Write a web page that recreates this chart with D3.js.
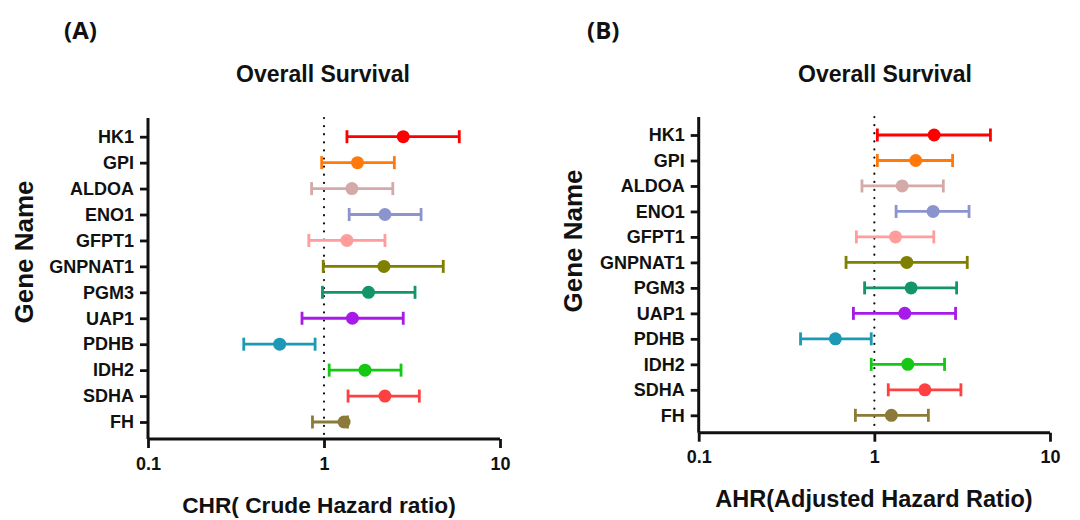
<!DOCTYPE html>
<html>
<head>
<meta charset="utf-8">
<script src="https://cdn.jsdelivr.net/npm/d3@7"></script>
<style>
  body { margin: 0; background: #fff; }
  svg text { font-family: "Liberation Sans", Arial, sans-serif; font-weight: bold; fill: #111; }
</style>
</head>
<body>
<svg class="chart"></svg>
<script>
var width = 1080,
    height = 520;

var genes = ["HK1", "GPI", "ALDOA", "ENO1", "GFPT1", "GNPNAT1", "PGM3", "UAP1", "PDHB", "IDH2", "SDHA", "FH"];
var colors = ["#ff0000", "#ff7a0a", "#d4aaa8", "#8c94d0", "#ff9c9c", "#7f7f00", "#13956a", "#a61be8", "#1c99b5", "#14c814", "#ff4040", "#8b7a3a"];

// crude hazard ratio (panel A)
var chrEst = [2.82, 1.55, 1.44, 2.22, 1.35, 2.19, 1.79, 1.45, 0.56, 1.71, 2.22, 1.30];
var chrLow = [1.35, 0.97, 0.85, 1.39, 0.82, 0.99, 0.98, 0.75, 0.35, 1.07, 1.37, 0.86];
var chrHigh = [5.87, 2.51, 2.46, 3.56, 2.22, 4.76, 3.29, 2.82, 0.89, 2.74, 3.48, 1.36];

// adjusted hazard ratio (panel B)
var ahrEst = [2.19, 1.72, 1.44, 2.16, 1.32, 1.53, 1.62, 1.49, 0.60, 1.55, 1.94, 1.25];
var ahrLow = [1.04, 1.04, 0.85, 1.33, 0.79, 0.69, 0.88, 0.76, 0.38, 0.96, 1.20, 0.78];
var ahrHigh = [4.58, 2.79, 2.47, 3.46, 2.18, 3.38, 2.94, 2.90, 0.96, 2.51, 3.11, 2.03];

var xTicks = [0.1, 1, 10];

var svg = d3.select(".chart")
    .attr("width", width)
    .attr("height", height);

function panel(o) {
  var x = d3.scaleLog()
      .domain([0.1, 10])
      .range([o.left, o.right]);
  var y = d3.scalePoint()
      .domain(genes)
      .range([o.first, o.last]);

  var g = svg.append("g");

  // reference line at HR = 1
  g.append("line")
      .attr("x1", x(1)).attr("x2", x(1))
      .attr("y1", o.top).attr("y2", o.bottom)
      .attr("stroke", "#111")
      .attr("stroke-width", 2.2)
      .attr("stroke-linecap", "round")
      .attr("stroke-dasharray", "0.1,8");

  var rows = genes.map(function(d, i) {
    return { name: d, est: o.est[i], lo: o.lo[i], hi: o.hi[i], color: colors[i] };
  });

  var row = g.selectAll(".row")
      .data(rows)
    .enter().append("g")
      .attr("class", "row")
      .attr("transform", function(d) { return "translate(0," + y(d.name) + ")"; });

  row.append("line")
      .attr("x1", function(d) { return x(d.lo); })
      .attr("x2", function(d) { return x(d.hi); })
      .attr("stroke", function(d) { return d.color; })
      .attr("stroke-width", 2.8);

  row.selectAll(".cap")
      .data(function(d) { return [{ v: d.lo, c: d.color }, { v: d.hi, c: d.color }]; })
    .enter().append("line")
      .attr("class", "cap")
      .attr("x1", function(d) { return x(d.v); })
      .attr("x2", function(d) { return x(d.v); })
      .attr("y1", -6.5).attr("y2", 6.5)
      .attr("stroke", function(d) { return d.c; })
      .attr("stroke-width", 2.8);

  row.append("circle")
      .attr("cx", function(d) { return x(d.est); })
      .attr("r", 6.5)
      .attr("fill", function(d) { return d.color; });

  // axes
  var xAxis = g.append("g")
      .attr("transform", "translate(0," + o.bottom + ")")
      .call(d3.axisBottom(x).tickValues(xTicks).tickFormat(d3.format("")).tickSize(9).tickPadding(9));
  var yAxis = g.append("g")
      .attr("transform", "translate(" + o.left + ",0)")
      .call(d3.axisLeft(y).tickSize(8).tickPadding(6));

  [xAxis, yAxis].forEach(function(a) {
    a.select(".domain").attr("stroke", "#111").attr("stroke-width", 3);
    a.selectAll(".tick line").attr("stroke", "#111").attr("stroke-width", 2.8);
    a.selectAll(".tick text").attr("fill", "#111").style("font-family", "Liberation Sans, Arial, sans-serif").style("font-weight", "bold");
  });
  yAxis.select(".domain").attr("d", "M0," + o.top + "V" + o.bottom);
  xAxis.select(".domain").attr("d", "M" + o.left + ",0H" + o.right);
  xAxis.selectAll(".tick text").style("font-size", "18px");
  yAxis.selectAll(".tick text").style("font-size", "18px");

  // labels
  g.append("text")
      .attr("x", o.tagX).attr("y", 39)
      .style("font-size", "24px")
      .style("font-family", "Open Sans, sans-serif")
      .text(o.tag);
  g.append("text")
      .attr("x", o.titleX).attr("y", 82)
      .attr("text-anchor", "middle")
      .style("font-size", "23px")
      .text("Overall Survival");
  g.append("text")
      .attr("transform", "translate(" + o.yLabX + "," + o.yLabY + ") rotate(-90)")
      .attr("text-anchor", "middle")
      .style("font-size", "26px")
      .text("Gene Name");
  g.append("text")
      .attr("x", o.xLabX).attr("y", o.xLabY)
      .attr("text-anchor", "middle")
      .style("font-size", o.xLabSize)
      .text(o.xLab);
}

panel({
  left: 148, right: 500, top: 118, bottom: 439, first: 136.7, last: 422,
  est: chrEst, lo: chrLow, hi: chrHigh,
  tag: "(A)", tagX: 64, titleX: 323,
  yLabX: 33, yLabY: 252,
  xLab: "CHR( Crude Hazard ratio)", xLabX: 319, xLabY: 513, xLabSize: "22.7px"
});

panel({
  left: 698.7, right: 1050, top: 117, bottom: 432.7, first: 135, last: 415.3,
  est: ahrEst, lo: ahrLow, hi: ahrHigh,
  tag: "(B)", tagX: 587, titleX: 885,
  yLabX: 582, yLabY: 241,
  xLab: "AHR(Adjusted Hazard Ratio)", xLabX: 874, xLabY: 507, xLabSize: "23.5px"
});
</script>
</body>
</html>
